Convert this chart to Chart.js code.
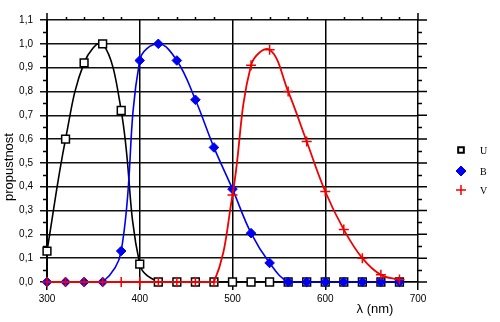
<!DOCTYPE html>
<html>
<head>
<meta charset="utf-8">
<script src="https://cdn.jsdelivr.net/npm/chart.js@4/dist/chart.umd.min.js"></script>
<style>
  body { margin: 0; background: #fff; }
  canvas { display: block; }
</style>
</head>
<body>
<canvas id="filtry" width="500" height="322"></canvas>
<script>
// vlnove delky (nm) a propustnost filtru U, B, V
const wavelengths = [300, 320, 340, 360, 380, 400, 420, 440, 460, 480, 500, 520, 540, 560, 580, 600, 620, 640, 660, 680];
const valuesU = [0.13, 0.60, 0.92, 1.00, 0.72, 0.075, 0, 0, 0, 0, 0, 0, 0, 0, 0, 0, 0, 0, 0, 0];
const valuesB = [0, 0, 0, 0, 0.13, 0.93, 1.00, 0.93, 0.765, 0.565, 0.39, 0.205, 0.08, 0, 0, 0, 0, 0, 0, 0];
const valuesV = [0, 0, 0, 0, 0, 0, 0, 0, 0, 0, 0.365, 0.91, 0.975, 0.80, 0.59, 0.38, 0.22, 0.10, 0.03, 0.01];
const seriesNames = ['U', 'B', 'V'];
const xTicks = [300, 400, 500, 600, 700];
const yTicks = [0, 0.1, 0.2, 0.3, 0.4, 0.5, 0.6, 0.7, 0.8, 0.9, 1.0, 1.1];

const sans = 'Liberation Sans, Arial, sans-serif';

function pts(vals) {
  return wavelengths.map((w, i) => ({ x: w, y: vals[i] }));
}

// osy, vedlejsi carky, popisky os a legenda
const extras = {
  id: 'extras',
  afterDraw(chart) {
    const ctx = chart.ctx;
    const a = chart.chartArea;
    const xs = chart.scales.x, ys = chart.scales.y;
    ctx.save();
    ctx.strokeStyle = '#000';
    ctx.lineWidth = 1.5;
    ctx.beginPath();
    // prodlouzeni svislych os nahoru
    ctx.moveTo(a.left, a.top); ctx.lineTo(a.left, a.top - 7);
    ctx.moveTo(a.right, a.top); ctx.lineTo(a.right, a.top - 7);
    // hlavni carky vpravo
    yTicks.forEach(v => {
      const y = ys.getPixelForValue(v);
      ctx.moveTo(a.right, y); ctx.lineTo(a.right + 9, y);
    });
    // vedlejsi carky vlevo a vpravo
    for (let v = 0.05; v < 1.1; v += 0.1) {
      const y = Math.round(ys.getPixelForValue(v)) + 0.5;
      ctx.moveTo(a.left - 4, y); ctx.lineTo(a.left, y);
      ctx.moveTo(a.right, y); ctx.lineTo(a.right + 4, y);
    }
    // vedlejsi carky nahore
    for (let w = 320; w < 700; w += 20) {
      if (w % 100 === 0) continue;
      const x = Math.round(xs.getPixelForValue(w)) + 0.5;
      ctx.moveTo(x, a.top); ctx.lineTo(x, a.top - 3);
    }
    ctx.stroke();

    ctx.fillStyle = '#000';
    ctx.font = '13px ' + sans;
    ctx.textAlign = 'center';
    ctx.textBaseline = 'middle';
    ctx.fillText('\u03bb (nm)', 375, 309);
    ctx.save();
    ctx.translate(9, 167);
    ctx.rotate(-Math.PI / 2);
    ctx.fillText('propustnost', 0, 0);
    ctx.restore();

    // legenda
    const rows = [150, 171, 190];
    chart.data.datasets.forEach((ds, i) => {
      const y = rows[i];
      ctx.strokeStyle = ds.pointBorderColor;
      ctx.fillStyle = ds.pointBackgroundColor;
      ctx.lineWidth = ds.legendBorder;
      Chart.helpers.drawPoint(ctx, {
        pointStyle: ds.pointStyle,
        radius: ds.legendRadius,
        borderWidth: ds.legendBorder
      }, 461, y);
      ctx.fillStyle = '#000';
      ctx.font = '10px Liberation Serif, Times New Roman, serif';
      ctx.textAlign = 'left';
      ctx.fillText(seriesNames[i], 480, y + 1);
    });
    ctx.restore();
  }
};

new Chart(document.getElementById('filtry'), {
  type: 'line',
  data: {
    datasets: [
      {
        label: seriesNames[0], data: pts(valuesU), order: 3, clip: false,
        borderColor: '#000', borderWidth: 1.6,
        pointStyle: 'rect', pointRadius: 5.5, legendRadius: 4, legendBorder: 2,
        pointBackgroundColor: '#fff', pointBorderColor: '#000', pointBorderWidth: 1.5
      },
      {
        label: seriesNames[1], data: pts(valuesB), order: 2, clip: false,
        borderColor: '#0000f0', borderWidth: 1.6,
        pointStyle: 'rectRot', pointRadius: 4.8, legendRadius: 5, legendBorder: 1,
        pointBackgroundColor: '#0000f0', pointBorderColor: '#0000f0', pointBorderWidth: 1
      },
      {
        label: seriesNames[2], data: pts(valuesV), order: 1, clip: false,
        borderColor: '#f00000', borderWidth: 1.8,
        pointStyle: 'cross', pointRadius: 5, legendRadius: 5, legendBorder: 1.5,
        pointBackgroundColor: '#f00000', pointBorderColor: '#f00000', pointBorderWidth: 1.5
      }
    ]
  },
  options: {
    responsive: false,
    animation: false,
    layout: { padding: { top: 20, right: 82, left: 0, bottom: 0 } },
    elements: { line: { tension: 0.4 } },
    plugins: { legend: { display: false }, tooltip: { enabled: false } },
    scales: {
      x: {
        type: 'linear', min: 300, max: 700,
        afterFit(s) { s.height = 40; },
        afterBuildTicks(s) { s.ticks = xTicks.map(v => ({ value: v })); },
        ticks: { color: '#000', font: { family: sans, size: 10 }, padding: 3, maxRotation: 0 },
        grid: { color: '#000', lineWidth: 1.5, tickLength: 8 },
        border: { color: '#000', width: 1.5 }
      },
      y: {
        min: 0, max: 1.1,
        afterFit(s) { s.width = 47; },
        afterBuildTicks(s) { s.ticks = yTicks.map(v => ({ value: v })); },
        ticks: {
          color: '#000', font: { family: sans, size: 10 }, padding: 7,
          callback: v => v.toFixed(1).replace('.', ',')
        },
        grid: { color: '#111', lineWidth: 1.5, tickLength: 7 },
        border: { color: '#000', width: 2 }
      }
    }
  },
  plugins: [extras]
});
</script>
</body>
</html>
